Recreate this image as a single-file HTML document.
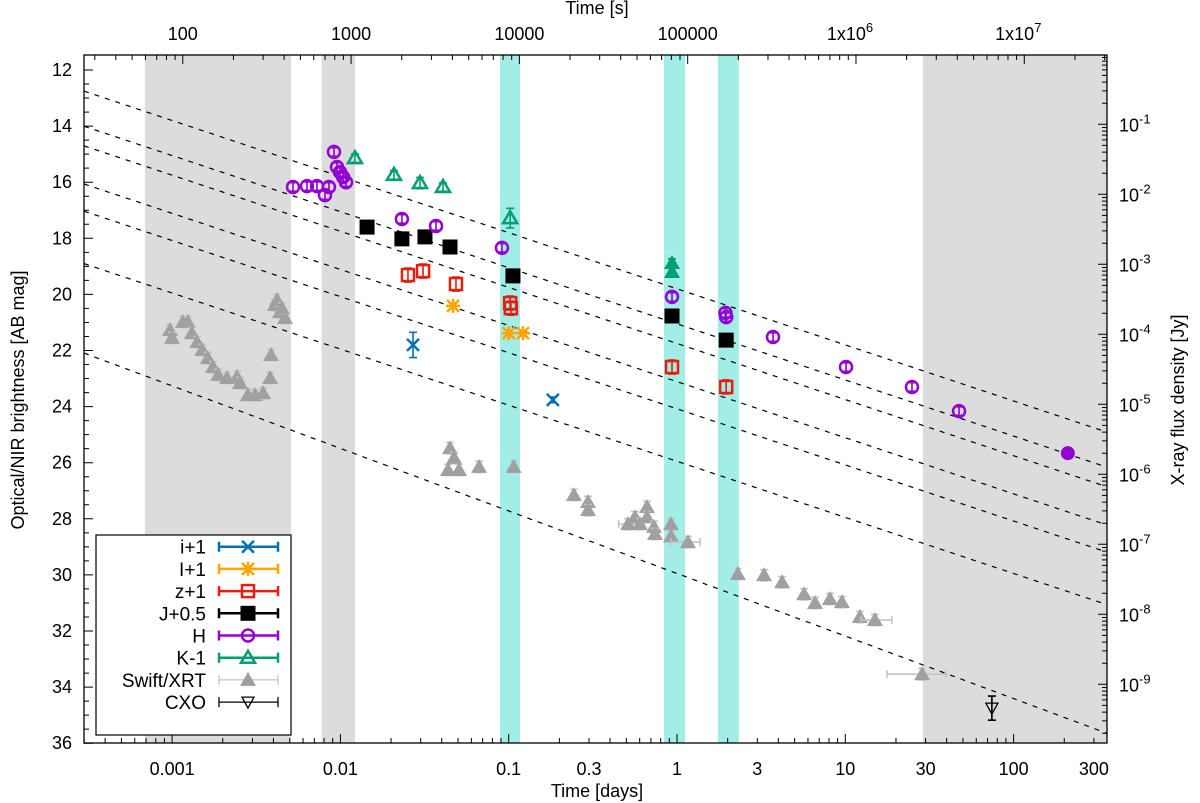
<!DOCTYPE html>
<html><head><meta charset="utf-8"><style>
html,body{margin:0;padding:0;background:#fff;}
svg{display:block;font-family:"Liberation Sans",sans-serif;}
</style></head><body>
<svg id="chart" width="1200" height="803" viewBox="0 0 1200 803" xmlns="http://www.w3.org/2000/svg"></svg>
<script>
// ---- data (days, AB mag) ----
const hT=[0.00523,0.00633,0.00726,0.00855,0.0081,0.00916,0.00955,0.00995,0.01038,0.0108,0.0232,0.037,0.0912,0.934,1.94,1.96,3.72,10.1,24.9,47.4,210];
const hM=[16.17,16.14,16.14,16.17,16.46,14.92,15.46,15.64,15.82,16.0,17.31,17.56,18.34,20.09,20.66,20.81,21.52,22.59,23.3,24.16,25.66];
const kT=[0.0122,0.0208,0.0297,0.0407,0.102,0.934,0.934];
const kM=[15.14,15.74,16.03,16.17,17.28,18.88,19.2];
const jT=[0.0144,0.0232,0.0318,0.0448,0.106,0.934,1.96];
const jM=[17.6,18.02,17.95,18.31,19.34,20.77,21.63];
const zT=[0.0252,0.031,0.0486,0.102,0.103,0.934,1.96];
const zM=[19.31,19.17,19.63,20.31,20.49,22.59,23.3];
const bigIT=[0.0467,0.1,0.1216];
const bigIM=[20.41,21.38,21.38];
const iT=[0.027,0.183];
const iM=[21.8,23.76];
const xrtT=[0.000972,0.000998,0.00116,0.00124,0.00131,0.00141,0.00151,0.00163,0.00175,0.00188,0.00212,0.00243,0.00253,0.00282,0.00311,0.00347,0.00382,0.00387,0.00408,0.00438,0.00469,0.0042,0.0045,
0.0448,0.0473,0.0436,0.0507,0.0667,0.107,0.244,0.296,0.296,0.512,0.563,0.603,0.663,0.663,0.73,0.74,0.921,0.921,1.162,2.3,3.29,4.21,5.69,6.61,8.11,9.55,12.2,15.0,28.6];
const xrtM=[21.27,21.55,20.98,20.98,21.38,21.7,21.98,22.27,22.59,22.87,22.98,22.94,23.16,23.59,23.59,23.52,22.98,22.16,20.38,20.63,20.84,20.2,20.5,
25.48,25.83,26.26,26.26,26.15,26.15,27.15,27.4,27.69,28.19,27.94,28.19,27.58,27.94,28.29,28.54,28.19,28.62,28.83,29.97,30.01,30.26,30.69,31.0,30.86,30.97,31.5,31.61,33.54];
const cxoT=[74.3];
const cxoM=[34.75];
// power-law lines: mag at 1 day, slope mag/decade
const lineM1=[19.80,21.05,21.75,23.11,24.08,25.95,29.95];
const lineSlope=[2.0,2.0,2.0,2.0,2.0,2.0,2.23];
const grayBands=[[0.00069,0.00508],[0.00773,0.0122],[28.9,1000]];
const cyanBands=[[0.0888,0.1167],[0.837,1.116],[1.75,2.33]];
const botTicks=[0.001,0.01,0.1,0.3,1,3,10,30,100,300];
const botLabels=["0.001","0.01","0.1","0.3","1","3","10","30","100","300"];
const topTicks=[100,1000,10000,100000,1e6,1e7];
const leftTicks=[12,14,16,18,20,22,24,26,28,30,32,34,36];
const rightExp=[-1,-2,-3,-4,-5,-6,-7,-8,-9];

// ---- geometry ----
const L=84,R=1107,T=55,B=743;
const X=t=>677+168.3*Math.log10(t);
const Y=m=>70+(m-12)*28.05;
const Yf=e=>194.3+(-2-e)*70;
const tMin=Math.pow(10,(L-677)/168.3), tMax=Math.pow(10,(R-677)/168.3);
const NS="http://www.w3.org/2000/svg";
const svg=document.getElementById('chart');
function mk(tag,at,parent){const e=document.createElementNS(NS,tag);for(const k in at)e.setAttribute(k,at[k]);(parent||svg).appendChild(e);return e;}
const clip=mk('clipPath',{id:'pc'});mk('rect',{x:L,y:T,width:R-L,height:B-T},clip);
const plot=mk('g',{'clip-path':'url(#pc)'});


grayBands.forEach(b=>{const r=mk('rect',{x:X(b[0]),y:T,width:X(b[1])-X(b[0]),height:B-T,fill:'#dcdcdc'},plot);

});
cyanBands.forEach(b=>{const r=mk('rect',{x:X(b[0]),y:T,width:X(b[1])-X(b[0]),height:B-T,fill:'#a2ede6'},plot);

});
lineM1.forEach((m,i)=>{const s=lineSlope[i];const l=mk('line',{x1:L,y1:Y(m+s*Math.log10(tMin)),x2:R,y2:Y(m+s*Math.log10(tMax)),stroke:'#000','stroke-width':1.2,'stroke-dasharray':'5,6'},plot);

});

function marker(g,type,x,y,c,ec){
  if(type==='x'){mk('path',{d:`M${x-6},${y-6}L${x+6},${y+6}M${x-6},${y+6}L${x+6},${y-6}`,stroke:c,'stroke-width':2.5,fill:'none'},g);}
  else if(type==='star'){mk('path',{d:`M${x-6},${y-6}L${x+6},${y+6}M${x-6},${y+6}L${x+6},${y-6}M${x-7},${y}L${x+7},${y}M${x},${y-7}L${x},${y+7}`,stroke:c,'stroke-width':2.5,fill:'none'},g);}
  else if(type==='osq'){mk('rect',{x:x-6,y:y-6,width:12,height:12,fill:'none',stroke:c,'stroke-width':2.5},g);}
  else if(type==='fsq'){mk('rect',{x:x-7.5,y:y-7.5,width:15,height:15,fill:c},g);}
  else if(type==='oc'){mk('circle',{cx:x,cy:y,r:6,fill:'none',stroke:c,'stroke-width':2.5},g);}
  else if(type==='fc'){mk('circle',{cx:x,cy:y,r:7,fill:c},g);}
  else if(type==='ot'){mk('path',{d:`M${x},${y-7}L${x+7},${y+5}L${x-7},${y+5}Z`,fill:'none',stroke:c,'stroke-width':2.5},g);}
  else if(type==='ft'){mk('path',{d:`M${x},${y-8}L${x+8},${y+6}L${x-8},${y+6}Z`,fill:c},g);}
  else if(type==='dt'){mk('path',{d:`M${x},${y+6}L${x+6},${y-5}L${x-6},${y-5}Z`,fill:'none',stroke:c,'stroke-width':1.3},g);}
}
function series(name,ts,ms,type,c,ec,err,xe){
  const g=mk('g',{},plot);
  
  
  ts.forEach((t,i)=>{const x=X(t),y=Y(ms[i]);const e=(typeof err==='number')?err:err[i];
    mk('path',{d:`M${x},${Y(ms[i]-e)}L${x},${Y(ms[i]+e)}M${x-4},${Y(ms[i]-e)}L${x+4},${Y(ms[i]-e)}M${x-4},${Y(ms[i]+e)}L${x+4},${Y(ms[i]+e)}`,stroke:ec,'stroke-width':1.6,fill:'none'},g);
    if(xe&&xe[i]){const a=X(xe[i][0]),b=X(xe[i][1]);mk('path',{d:`M${a},${y}L${b},${y}M${a},${y-4}L${a},${y+4}M${b},${y-4}L${b},${y+4}`,stroke:ec,'stroke-width':1.6,fill:'none'},g);}
    const tp=(name==='series-k'&&i>=5)?'ft':(name==='series-h'&&i===hT.length-1)?'fc':type;
    marker(g,tp,x,y,c,ec);});
}
series('series-xrt',xrtT,xrtM,'ft','#a0a0a0','#c4c4c4',0.2,{32:[0.45,0.57],41:[0.921,1.37],50:[12.4,18.9],51:[17.7,39.8]});
series('series-cxo',cxoT,cxoM,'dt','#000','#000',0.43);
series('series-i',iT,iM,'x','#0072b2','#0072b2',[0.45,0.1]);
series('series-big-i',bigIT,bigIM,'star','#ffa500','#ffa500',0.1);
series('series-z',zT,zM,'osq','#e51e10','#e51e10',0.25);
series('series-j',jT,jM,'fsq','#000','#000',0.1);
series('series-h',hT,hM,'oc','#9400d3','#9400d3',0.15);
series('series-k',kT,kM,'ot','#009e73','#009e73',[0.15,0.15,0.2,0.15,0.35,0.15,0.15]);

// ---- axes ----
const ax=mk('g',{});


mk('rect',{x:L,y:T,width:R-L,height:B-T,fill:'none',stroke:'#000','stroke-width':1.3},ax);
let tk='';
for(let d=-4;d<=3;d++)for(let k=1;k<10;k++){const t=k*Math.pow(10,d);const x=X(t);if(x<L||x>R)continue;const len=k===1?9:5;tk+=`M${x},${B}L${x},${B-len}`;}
for(let d=0;d<=8;d++)for(let k=1;k<10;k++){const t=k*Math.pow(10,d)/86400;const x=X(t);if(x<L||x>R)continue;const len=k===1?9:5;tk+=`M${x},${T}L${x},${T+len}`;}
for(let m=12;m<=36;m+=0.5){const len=(m%2===0)?9:5;tk+=`M${L},${Y(m)}L${L+len},${Y(m)}`;}
for(let e=-10;e<=0;e++)for(let k=1;k<10;k++){const y=Yf(e+Math.log10(k));if(y<T||y>B)continue;const len=k===1?9:5;tk+=`M${R},${y}L${R-len},${y}`;}
mk('path',{d:tk,stroke:'#000','stroke-width':1,fill:'none'},ax);
function txt(s,x,y,at,name){const e=mk('text',Object.assign({x:x,y:y,'font-size':18,'text-anchor':'middle',fill:'#000'},at||{}),ax);e.textContent=s;
  
  return e;}
botTicks.forEach((t,i)=>txt(botLabels[i],X(t),775,{},'x-tick-label'));
txt('Time [days]',597,797,{},'x-axis-title');
const topLab=['100','1000','10000','100000'];
topTicks.forEach((s,i)=>{const x=X(s/86400);
  if(i<4)txt(topLab[i],x,40,{},'top-x-tick-label');
  else{const e=txt('1x10',x-6,40,{},'top-x-tick-label');const sp=mk('tspan',{dy:-8,'font-size':13},e);sp.textContent=String(i+2);}});
txt('Time [s]',597,14,{},'top-x-axis-title');
leftTicks.forEach(m=>txt(String(m),L-12,Y(m)+6,{'text-anchor':'end'},'y-tick-label'));
rightExp.forEach(e=>{const t=txt('10',R+12,Yf(e)+7,{'text-anchor':'start'},'right-y-tick-label');const sp=mk('tspan',{dy:-8,'font-size':13},t);sp.textContent=String(e);});
txt('Optical/NIR brightness [AB mag]',24,400,{transform:'rotate(-90 24 400)'},'y-axis-title');
txt('X-ray flux density [Jy]',1184,400,{transform:'rotate(-90 1184 400)'},'right-y-axis-title');

// ---- legend ----
const lg=mk('g',{});


mk('rect',{x:96,y:535,width:195,height:200,fill:'#fff',stroke:'#000','stroke-width':1.2},lg);
const legNames=['i+1','I+1','z+1','J+0.5','H','K-1','Swift/XRT','CXO'];
const legTypes=['x','star','osq','fsq','oc','ot','ft','dt'];
const legCol=['#0072b2','#ffa500','#e51e10','#000','#9400d3','#009e73','#a0a0a0','#000'];
const legLine=['#0072b2','#ffa500','#e51e10','#000','#9400d3','#009e73','#c4c4c4','#000'];
legNames.forEach((n,i)=>{const y=546.7+i*22.2;
  const g=mk('g',{},lg);
  
  
  const t=mk('text',{x:206,y:y+7,'font-size':19,'text-anchor':'end'},g);t.textContent=n;
  const w=i>=6?1.3:2.5;
  mk('path',{d:`M219,${y}L278,${y}M219,${y-5}L219,${y+5}M278,${y-5}L278,${y+5}`,stroke:legLine[i],'stroke-width':w,fill:'none'},g);
  marker(g,legTypes[i],248,y,legCol[i]);});
</script>
</body></html>
